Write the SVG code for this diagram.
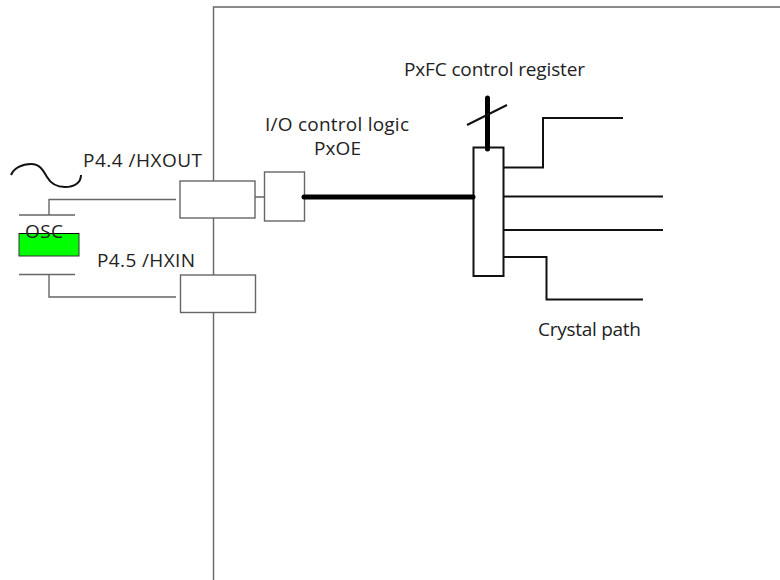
<svg xmlns="http://www.w3.org/2000/svg" width="780" height="580" viewBox="0 0 780 580">
<style>
text{font-family:"Open Sans","Noto Sans","Liberation Sans",sans-serif;font-size:19px;fill:#222}
.g{fill:none;stroke:#666;stroke-width:1.4}
.gb{fill:#fff;stroke:#666;stroke-width:1.4}
.k{fill:none;stroke:#111;stroke-width:2}
.t{fill:none;stroke:#000;stroke-linecap:round}
</style>
<rect width="780" height="580" fill="#fff"/>
<g id="connectors">
<path class="g" d="M213.500 580V7H780"/>
<path class="g" d="M176 199.500H49V215M49 274.500V297H176M255 197H265"/>
<path class="k" d="M503 167.500H543V118H623M503 196.500H663M503 230H663M503 257H546.500V299.500H643"/>
<path class="k" d="M11 175C14 168 22 164 31 164C41 164 44 172 47 177C51 184 58 187 65 187C74 187 81 183 81 175"/>
</g>
<g id="hxout"><rect class="gb" x="180" y="181" width="75" height="37"/><text x="83" y="167" textLength="119">P4.4 /HXOUT</text></g>
<g id="hxin"><rect class="gb" x="180.500" y="275" width="75" height="37.500"/><text x="97" y="266.500" textLength="98">P4.5 /HXIN</text></g>
<g id="io"><rect class="gb" x="264.500" y="172" width="40" height="49"/><text x="265" y="131" textLength="144">I/O control logic</text><text x="314" y="155" textLength="47">PxOE</text></g>
<g id="osc">
<path class="g" d="M19 215H75M19 274.500H75"/>
<rect x="19" y="233.500" width="60" height="22.500" fill="#00ff00" stroke="#333"/>
<path d="M19 233.500H79" stroke="#000" fill="none"/>
<text x="25" y="238" textLength="38">OSC</text>
</g>
<g id="mux"><rect x="473.500" y="147.500" width="30" height="128.500" fill="#fff" stroke="#111" stroke-width="2"/></g>
<g id="bus">
<path class="t" stroke-width="5" d="M304 197H473"/>
<path class="t" stroke-width="5" d="M487.500 98V149"/>
<path class="k" d="M467 125L507 105"/>
</g>
<g id="labels"><text x="404" y="75.500" textLength="181">PxFC control register</text><text x="538" y="336" textLength="103">Crystal path</text></g>
</svg>
